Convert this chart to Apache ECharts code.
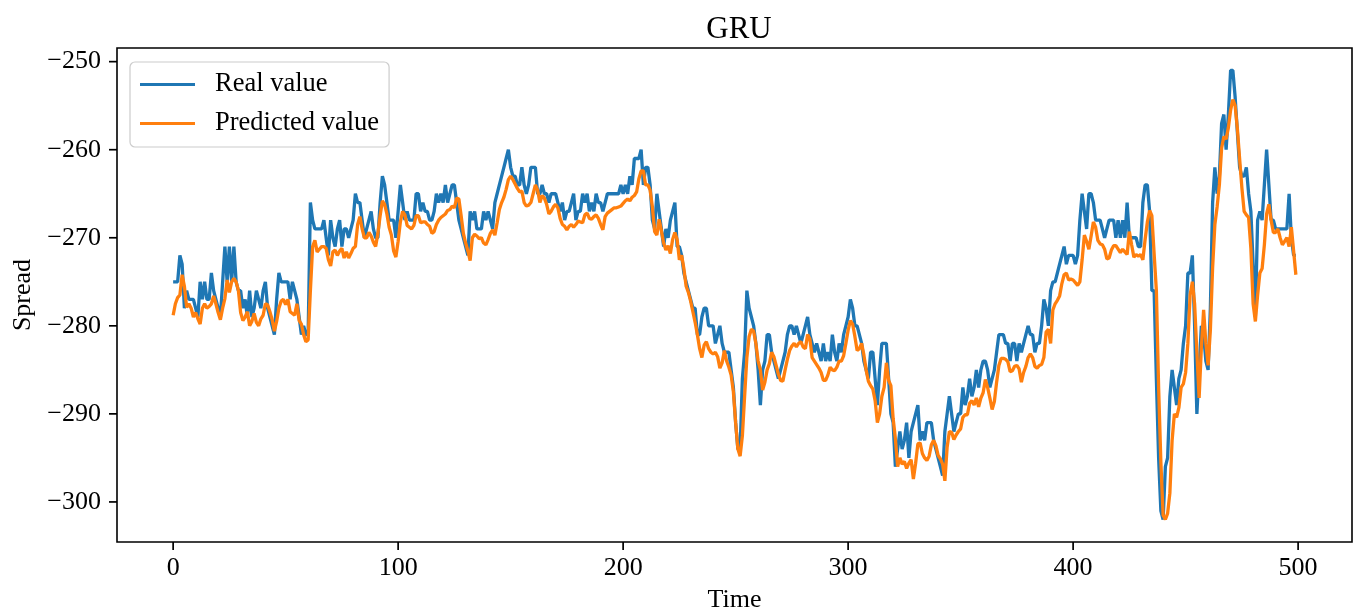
<!DOCTYPE html>
<html>
<head>
<meta charset="utf-8">
<title>GRU</title>
<script src="https://cdn.jsdelivr.net/npm/echarts@6/dist/echarts.min.js"></script>
<style>
  html, body { margin: 0; padding: 0; background: #fff; }
  #chart { width: 1357px; height: 612px; }
</style>
</head>
<body>
<div id="chart"></div>
<script>
// Spread series over 500 time steps
const realValue = [
  -275,-275,-275,-272,-273,-278,-276,-277,-277,-277,
  -278,-279,-275,-277,-275,-277,-277,-274,-276,-277,
  -278,-279,-275,-271,-275,-271,-275,-271,-275,-276,
  -276,-278,-277,-279,-276,-279,-278,-276,-277,-278,
  -276,-275,-278,-279,-280,-281,-277,-274,-275,-275,
  -275,-275,-277,-275,-276,-277,-279,-281,-280,-281,
  -281,-266,-268,-269,-269,-269,-269,-268,-270,-272,
  -268,-270,-271,-269,-268,-271,-269,-269,-270,-269,
  -268,-265,-266,-266,-268,-270,-269,-268,-267,-269,
  -270,-270,-266,-263,-264,-266,-268,-268,-268,-270,
  -267,-264,-266,-268,-267,-268,-268,-268,-265,-265,
  -267,-266,-267,-267,-268,-268,-267,-265,-266,-265,
  -266,-264,-266,-265,-264,-264,-266,-268,-269,-270,
  -271,-272,-267,-268,-267,-269,-269,-269,-267,-268,
  -267,-268,-269,-266,-265,-264,-263,-262,-261,-260,
  -262,-263,-263,-264,-264,-262,-264,-265,-264,-262,
  -262,-262,-265,-265,-264,-265,-265,-266,-265,-265,
  -265,-266,-267,-266,-268,-267,-267,-266,-265,-268,
  -267,-267,-265,-266,-265,-267,-266,-267,-265,-266,
  -266,-267,-266,-265,-265,-265,-265,-265,-265,-264,
  -265,-264,-265,-263,-264,-261,-261,-261,-260,-264,
  -262,-262,-264,-268,-269,-265,-267,-269,-271,-269,
  -270,-268,-267,-266,-271,-271,-272,-274,-275,-276,
  -277,-278,-278,-281,-281,-279,-278,-278,-280,-280,
  -280,-282,-281,-280,-282,-283,-283,-283,-285,-287,
  -291,-294,-294,-286,-283,-276,-278,-279,-280,-282,
  -285,-289,-285,-284,-281,-281,-283,-284,-285,-286,
  -285,-284,-283,-281,-280,-280,-281,-280,-281,-282,
  -281,-280,-279,-281,-282,-283,-282,-283,-284,-282,
  -284,-283,-284,-281,-283,-284,-282,-283,-281,-280,
  -279,-277,-278,-280,-280,-281,-282,-284,-285,-286,
  -283,-283,-286,-289,-285,-282,-282,-282,-286,-290,
  -291,-296,-294,-292,-294,-293,-291,-295,-292,-291,
  -290,-289,-293,-292,-293,-291,-291,-291,-293,-294,
  -295,-296,-297,-292,-290,-288,-290,-292,-291,-290,
  -290,-287,-289,-288,-286,-288,-287,-285,-287,-285,
  -284,-284,-285,-287,-286,-285,-283,-281,-281,-281,
  -282,-282,-284,-282,-282,-284,-282,-283,-282,-281,
  -280,-281,-281,-283,-282,-282,-280,-277,-278,-280,
  -276,-275,-275,-274,-273,-272,-271,-273,-272,-272,
  -272,-273,-272,-268,-265,-267,-269,-265,-265,-266,
  -268,-268,-268,-269,-270,-269,-268,-268,-268,-270,
  -268,-270,-268,-270,-266,-270,-270,-270,-270,-271,
  -271,-266,-264,-264,-267,-276,-276,-286,-295,-301,
  -302,-296,-295,-288,-285,-287,-289,-286,-285,-282,
  -280,-274,-274,-272,-280,-290,-285,-280,-281,-284,
  -285,-278,-266,-262,-265,-263,-257,-256,-260,-256,
  -251,-251,-254,-258,-262,-263,-263,-262,-265,-267,
  -273,-279,-268,-267,-268,-264,-260,-264,-268,-268,
  -269,-269,-269,-269,-269,-269,-265,-270,-272,-272
];

const predictedValue = [
  -278.8,-277.5,-276.8,-276.5,-274.2,-275.5,-277.9,-277.5,-278,-279,
  -278.5,-279.2,-279.8,-278,-277.5,-278,-277.8,-277.5,-276.6,-277.5,
  -278.5,-279.3,-278,-276.9,-274.8,-276.2,-275,-274.6,-275,-276,
  -278.5,-279.4,-279,-278.4,-280,-279.5,-278.6,-279.6,-280,-279.2,
  -278.8,-277.5,-277.6,-278.4,-279.3,-280.6,-279.5,-278,-277.2,-277,
  -277.6,-277,-278.4,-278.6,-278.8,-277.5,-279.4,-279.8,-281,-281.8,
  -281.6,-276,-271,-270.3,-271.6,-271.3,-271,-271,-271.2,-272.5,
  -273.2,-271.6,-271.4,-272,-271.5,-271.2,-272.3,-271.6,-272.3,-271.8,
  -271.2,-271,-268.5,-267.6,-269,-270,-270,-269.4,-269.8,-270.5,
  -271,-269.5,-267.5,-265.8,-266.2,-267.3,-268.8,-269.7,-271.5,-272.2,
  -270.4,-268.2,-267,-267.4,-268.6,-268.8,-269,-268.6,-267.5,-267.5,
  -268.3,-268.2,-268.2,-268.5,-268.7,-269.5,-269.3,-268.5,-268,-267.7,
  -267.5,-267.3,-266.9,-266.8,-266.4,-266.6,-265.5,-265.6,-267.5,-269.5,
  -270.6,-271.5,-272.6,-270,-269.6,-269.8,-270.1,-270,-270.6,-270.8,
  -270.2,-269.5,-269.1,-269.7,-268.3,-266.8,-266,-265.4,-264.5,-263.4,
  -263,-263.4,-263.9,-264.4,-264.8,-264.7,-266,-266.4,-266.3,-266,
  -265,-264,-264.6,-266,-265.2,-265.5,-266.2,-267.3,-267,-266.5,
  -266.2,-266.6,-267.8,-268.5,-268.7,-269.1,-268.7,-268.5,-268.8,-268.5,
  -268.1,-268.2,-268.3,-267.4,-267.2,-267.8,-267.9,-267.6,-267.4,-267.8,
  -268.5,-269.1,-267.6,-267.2,-267,-266.8,-266.6,-266.6,-266.5,-266.4,
  -266.1,-265.8,-265.6,-265.8,-265.4,-265.2,-264.8,-263.3,-262.4,-262.4,
  -264,-264,-264.6,-266.5,-269.3,-269.7,-267.9,-269.2,-270.6,-271.4,
  -270.9,-271.8,-270.2,-269.4,-270.2,-272.5,-272,-273.5,-275.5,-276.2,
  -277.2,-278.4,-279.6,-281,-282.6,-283.6,-282.2,-281.8,-282.6,-283,
  -283.2,-283,-283.5,-284.8,-284.2,-282.8,-284,-284.7,-285.6,-287.5,
  -291,-294,-294.8,-292.5,-288,-283.6,-281.2,-280.4,-280.6,-282,
  -284,-285,-287.3,-286.4,-285,-284.3,-283,-283.5,-284.5,-285.5,
  -286.2,-286.3,-285,-283.8,-282.8,-282.3,-282,-282.4,-282,-281.8,
  -282.4,-282.6,-281,-281.5,-283.6,-284,-284.4,-284.8,-285.3,-286.2,
  -286.2,-285.6,-284.7,-285,-285.1,-284.7,-284,-284,-283.4,-282,
  -280.5,-279.4,-279.8,-281.2,-282.8,-282.6,-282,-283.3,-285,-286.3,
  -286.8,-287.2,-288.5,-291,-290,-288,-287,-284.2,-286.2,-286.8,
  -290.5,-292.8,-296,-295,-295.7,-295.4,-296.2,-295.6,-295.2,-297.4,
  -295.6,-293.4,-293.3,-294.5,-295,-295.3,-294.8,-293.5,-293,-293.6,
  -294.7,-295.1,-295.7,-297.6,-293.8,-292,-292.1,-292.9,-292.4,-292,
  -291.7,-290.4,-290.1,-290.1,-288.8,-288.5,-289,-288.2,-289.2,-288.2,
  -287.6,-286.1,-287,-288.2,-289.5,-288.6,-286.4,-284.5,-283.7,-283.7,
  -283.8,-284.1,-285.2,-285.1,-284.6,-284.5,-284.9,-286.4,-285.3,-284.6,
  -283.6,-283.2,-283.6,-284.6,-284.8,-284.5,-284.4,-283.6,-280.7,-280.4,
  -282,-278.2,-277.5,-277.1,-276.6,-275.2,-274.2,-274,-274.8,-274.7,
  -274.8,-275.1,-275.4,-275,-272.5,-269.7,-270.4,-271.3,-269.8,-268.2,
  -268.8,-270.3,-270.7,-270.8,-271.3,-272.4,-272.3,-271.4,-270.9,-270.9,
  -271.3,-271.7,-271.3,-271.6,-271.9,-269.3,-270.8,-272.2,-271.9,-272.1,
  -271.9,-272.5,-270.2,-268.2,-266.9,-267.5,-271.8,-276,-287,-295.5,
  -301.5,-302,-301.3,-299,-293,-290,-290.4,-289.3,-287,-286.6,
  -285.3,-282,-276.5,-275,-277.5,-283,-288.2,-282.5,-278.2,-282,
  -284.5,-280.5,-273.4,-268.5,-266.5,-264,-259.8,-258.5,-258.8,-257.5,
  -255.5,-254.3,-255,-257.6,-261,-264.3,-267,-267.4,-267.7,-271.2,
  -277.5,-279.5,-276.5,-274,-273.5,-270.8,-267.3,-266.2,-268,-269.4,
  -269.4,-269,-270,-270.8,-270.4,-270,-271,-268.8,-271.5,-274.2
];

const timeTicks = [0, 100, 200, 300, 400, 500];
const spreadTicks = [-300, -290, -280, -270, -260, -250];

const X_MIN = -24.95, X_MAX = 523.95;
const Y_MIN = -304.55, Y_MAX = -248.45;
const TICK_LEN = 8;

const FONT = "'Liberation Serif', 'DejaVu Serif', serif";
const withMinus = v => String(v).replace('-', '\u2212');

const realPoints = realValue.map((v, i) => [i, v]);
const predictedPoints = predictedValue.map((v, i) => [i, v]);

const chart = echarts.init(document.getElementById('chart'), null, { renderer: 'canvas' });

const tickStroke = { stroke: '#000000', lineWidth: 1.7 };

// Outward tick marks on the bottom and left edges of the plot frame
const xTickSeries = {
  type: 'custom',
  silent: true,
  clip: false,
  z: 10,
  data: timeTicks.map(v => [v, Y_MIN]),
  renderItem: (params, api) => {
    const p = api.coord([api.value(0), Y_MIN]);
    return { type: 'line', shape: { x1: p[0], y1: p[1], x2: p[0], y2: p[1] + TICK_LEN }, style: tickStroke };
  }
};
const yTickSeries = {
  type: 'custom',
  silent: true,
  clip: false,
  z: 10,
  data: spreadTicks.map(v => [X_MIN, v]),
  renderItem: (params, api) => {
    const p = api.coord([X_MIN, api.value(1)]);
    return { type: 'line', shape: { x1: p[0] - TICK_LEN, y1: p[1], x2: p[0], y2: p[1] }, style: tickStroke };
  }
};

chart.setOption({
  animation: false,
  backgroundColor: '#ffffff',
  title: {
    text: 'GRU',
    left: 734,
    top: 9,
    textAlign: 'center',
    textStyle: { fontFamily: FONT, fontSize: 31, fontWeight: 'normal', color: '#000' }
  },
  legend: {
    orient: 'vertical',
    left: 130,
    top: 62,
    padding: [9, 10, 10, 10],
    itemGap: 12,
    itemWidth: 55,
    itemHeight: 3,
    icon: 'rect',
    backgroundColor: 'rgba(255,255,255,0.85)',
    borderColor: '#cccccc',
    borderWidth: 1.2,
    borderRadius: 5,
    textStyle: { fontFamily: FONT, fontSize: 26.5, color: '#000', padding: [0, 0, 0, 15] },
    data: ['Real value', 'Predicted value']
  },
  grid: {
    left: 117, top: 48, width: 1235, height: 494,
    outerBoundsMode: 'none',
    containLabel: false,
    show: true, borderColor: '#000', borderWidth: 1.6, backgroundColor: 'transparent'
  },
  xAxis: {
    type: 'value',
    min: X_MIN,
    max: X_MAX,
    name: 'Time',
    nameLocation: 'middle',
    nameGap: 45,
    nameTextStyle: { fontFamily: FONT, fontSize: 26, color: '#000' },
    axisLine: { show: false, onZero: false },
    axisTick: { show: false },
    axisLabel: { fontFamily: FONT, fontSize: 26, color: '#000', margin: 13,
                 customValues: timeTicks, formatter: withMinus },
    splitLine: { show: false }
  },
  yAxis: {
    type: 'value',
    min: Y_MIN,
    max: Y_MAX,
    name: 'Spread',
    nameLocation: 'middle',
    nameGap: 80,
    nameTextStyle: { fontFamily: FONT, fontSize: 26, color: '#000' },
    axisLine: { show: false, onZero: false },
    axisTick: { show: false },
    axisLabel: { fontFamily: FONT, fontSize: 26, color: '#000', margin: 16,
                 customValues: spreadTicks, formatter: withMinus },
    splitLine: { show: false }
  },
  series: [
    {
      name: 'Real value',
      type: 'line',
      data: realPoints,
      showSymbol: false,
      symbol: 'none',
      color: '#1f77b4',
      lineStyle: { color: '#1f77b4', width: 3.3 },
      z: 2
    },
    {
      name: 'Predicted value',
      type: 'line',
      data: predictedPoints,
      showSymbol: false,
      symbol: 'none',
      color: '#ff7f0e',
      lineStyle: { color: '#ff7f0e', width: 3.3 },
      z: 3
    },
    xTickSeries,
    yTickSeries
  ]
});
</script>
</body>
</html>
